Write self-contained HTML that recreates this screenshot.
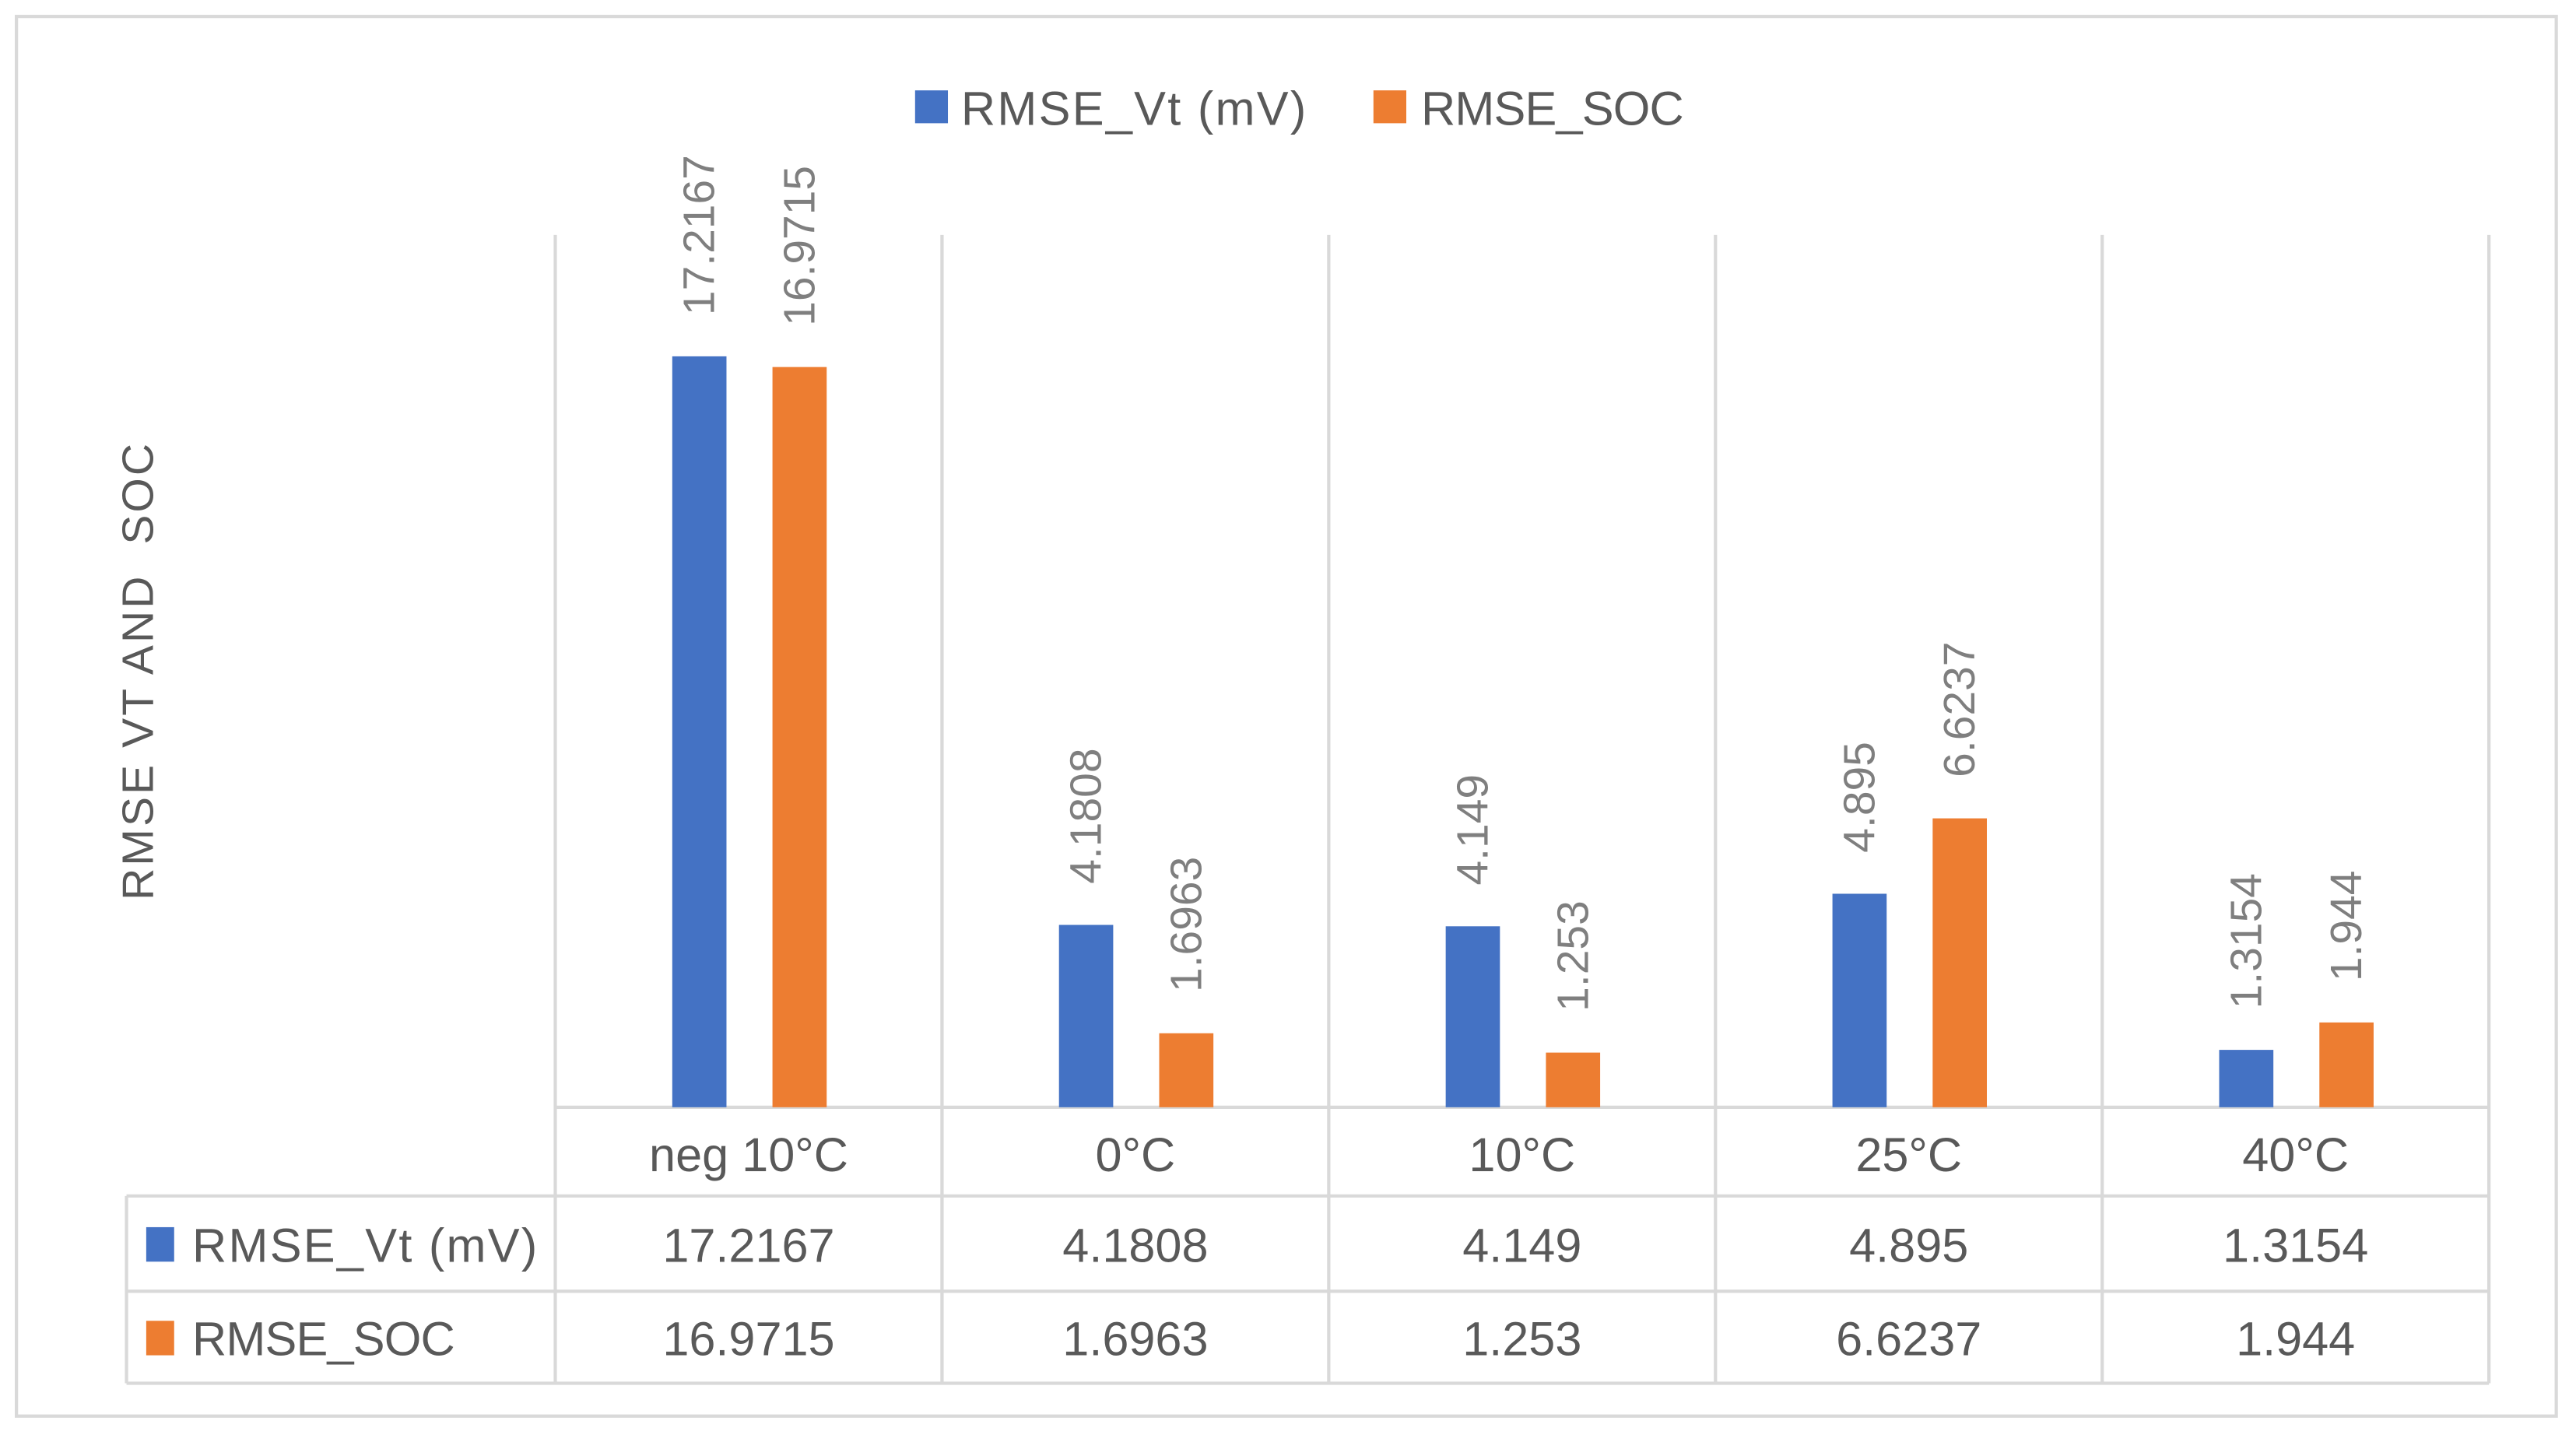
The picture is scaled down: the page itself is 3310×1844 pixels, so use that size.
<!DOCTYPE html>
<html><head><meta charset="utf-8"><style>
html,body{margin:0;padding:0;background:#fff;}
svg{display:block;}
</style></head><body>
<svg id="chart" xmlns="http://www.w3.org/2000/svg" width="3310" height="1844" viewBox="0 0 1568 873.5">
<rect x="10" y="10" width="1546" height="852" fill="#fff" stroke="#d9d9d9" stroke-width="2"/>
<g>
<rect x="557" y="55" width="20" height="20" fill="#4472c4"/>
<text x="585" y="76" font-family="Liberation Sans, sans-serif" font-size="29" textLength="210" fill="#595959">RMSE_Vt (mV)</text>
<rect x="836" y="55" width="20" height="20" fill="#ed7d31"/>
<text x="865" y="76" font-family="Liberation Sans, sans-serif" font-size="29" textLength="160" fill="#595959">RMSE_SOC</text>
</g>
<text transform="translate(93,409) rotate(-90)" text-anchor="middle" font-family="Liberation Sans, sans-serif" font-size="27" textLength="278" fill="#595959" xml:space="preserve">RMSE VT AND  SOC</text>
<g id="grid"></g>
<g id="bars"></g>
<g id="table"></g>
</svg>
<script>
const categories = ["neg 10°C","0°C","10°C","25°C","40°C"];
const seriesNames = ["RMSE_Vt (mV)","RMSE_SOC"];
const vtValues = [17.2167,4.1808,4.149,4.895,1.3154];
const socValues = [16.9715,1.6963,1.253,6.6237,1.944];
const vtLabels = ["17.2167","4.1808","4.149","4.895","1.3154"];
const socLabels = ["16.9715","1.6963","1.253","6.6237","1.944"];
const yMax = 20;

const NS = "http://www.w3.org/2000/svg";
const plotL = 338, plotR = 1515, plotT = 143, plotB = 674;
const catW = (plotR - plotL) / categories.length;
function xCat(i){ return plotL + catW * (i + 0.5); }
function yVal(v){ return plotB - (v / yMax) * (plotB - plotT); }
function mk(tag, attrs, parent){ const e = document.createElementNS(NS, tag); for (const k in attrs) e.setAttribute(k, attrs[k]); parent.appendChild(e); return e; }

const grid = document.getElementById('grid');
const bars = document.getElementById('bars');
const table = document.getElementById('table');
const lineStyle = {stroke:"#d9d9d9","stroke-width":2};

for (let i = 0; i <= categories.length; i++) {
  const x = plotL + catW * i;
  const l = mk('line', Object.assign({x1:x, x2:x, y1:plotT, y2:842}, lineStyle), grid);
  
  
}
const rows = [[plotL,674],[77,728],[77,786],[77,842]];
rows.forEach(r => {
  const l = mk('line', Object.assign({x1:r[0], x2:plotR, y1:r[1], y2:r[1]}, lineStyle), grid);
  
  
});
const lv = mk('line', Object.assign({x1:77, x2:77, y1:728, y2:842}, lineStyle), grid);



const series = [
  {vals: vtValues, labels: vtLabels, color: "#4472c4", off: -30, name: "vt"},
  {vals: socValues, labels: socLabels, color: "#ed7d31", off: 31, name: "soc"}
];
const bw = 33;
series.forEach(s => {
  s.vals.forEach((v, i) => {
    const cx = xCat(i) + s.off;
    const y = yVal(v);
    const b = mk('rect', {x: cx - bw/2, y: y, width: bw, height: plotB - y, fill: s.color}, bars);
    
    
    const t = mk('text', {transform: `translate(${cx + 9},${y - 25}) rotate(-90)`, 'font-family': 'Liberation Sans, sans-serif', 'font-size': 27, fill: '#7f7f7f'}, bars);
    t.textContent = s.labels[i];
    
    
  });
});

const font = 'Liberation Sans, sans-serif';
categories.forEach((c, i) => {
  const t = mk('text', {x: xCat(i), y: 713, 'text-anchor': 'middle', 'font-family': font, 'font-size': 29, fill: '#595959'}, table);
  t.textContent = c;
  
  
  const a = mk('text', {x: xCat(i), y: 768, 'text-anchor': 'middle', 'font-family': font, 'font-size': 29, fill: '#595959'}, table);
  a.textContent = vtLabels[i];
  
  
  const b = mk('text', {x: xCat(i), y: 825, 'text-anchor': 'middle', 'font-family': font, 'font-size': 29, fill: '#595959'}, table);
  b.textContent = socLabels[i];
  
  
});
[[0,"#4472c4",747,768,210],[1,"#ed7d31",804,825,160]].forEach(r => {
  const sw = mk('rect', {x: 89, y: r[2], width: 17, height: 21, fill: r[1]}, table);
  
  
  const t = mk('text', {x: 117, y: r[3], 'font-family': font, 'font-size': 29, textLength: r[4], fill: '#595959'}, table);
  t.textContent = seriesNames[r[0]];
  
  
});
</script>
</body></html>
